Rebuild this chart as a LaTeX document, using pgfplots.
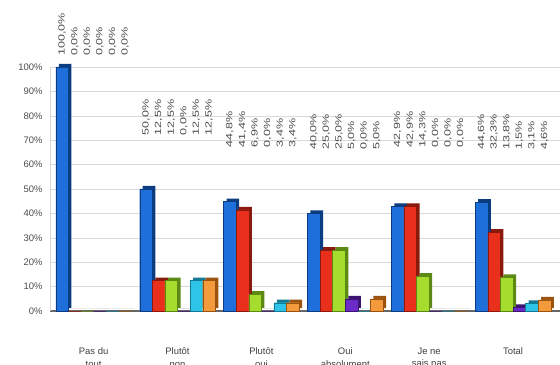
\documentclass[border=0pt]{standalone}
\usepackage{pgfplots}
\pgfplotsset{compat=1.18}
\usepackage{pgfplotstable}
\usepackage{fontspec}
\setmainfont{Liberation Sans}

\definecolor{sA}{HTML}{1E6FD9}\definecolor{sAdk}{HTML}{0B3C80}
\definecolor{sB}{HTML}{E8301C}\definecolor{sBdk}{HTML}{8A1A0E}
\definecolor{sC}{HTML}{A6DC2E}\definecolor{sCdk}{HTML}{5C8A14}
\definecolor{sD}{HTML}{6A2BC8}\definecolor{sDdk}{HTML}{3A1470}
\definecolor{sE}{HTML}{2EC4E8}\definecolor{sEdk}{HTML}{137A94}
\definecolor{sF}{HTML}{F39A3C}\definecolor{sFdk}{HTML}{9A5410}

% x = group, ly = height of the value labels, a..f = the six series (%)
\pgfplotstableread{
x ly a b c d e f
0 104.5 100.0 0.0 0.0 0.0 0.0 0.0
1 72 50.0 12.5 12.5 0.0 12.5 12.5
2 67 44.8 41.4 6.9 0.0 3.4 3.4
3 66 40.0 25.0 25.0 5.0 0.0 5.0
4 67 42.9 42.9 14.3 0.0 0.0 0.0
5 66 44.6 32.3 13.8 1.5 3.1 4.6
}\data

\newcommand\series[3]{%
  \addplot[ybar, bar width=12.6bp, bar shift=#3, fill=#2dk, draw=none, xshift=3bp, yshift=3bp]
    table[x=x,y=#1]{\data};
  \addplot[ybar, bar width=12.6bp, bar shift=#3, fill=#2, draw=#2dk, line width=0.4pt]
    table[x=x,y=#1]{\data};
}
\newcommand\labels[2]{%
  \addplot[ybar, bar width=1bp, bar shift=#2, draw=none, fill=none,
    point meta=\thisrow{#1},
    nodes near coords={\pgfmathprintnumber[fixed,fixed zerofill,precision=1,use comma]{\pgfplotspointmeta}\%},
    every node near coord/.append style={xshift=#2, rotate=90, xscale=1.4, anchor=west, inner sep=0pt,
      font=\fontsize{9}{9}\selectfont, text=black!70}]
    table[x=x,y=ly]{\data};
}

\begin{document}
\begin{tikzpicture}
\begin{axis}[
  scale only axis, width=510bp, height=244bp,
  xmin=-0.52, xmax=5.56, ymin=0, ymax=100,
  clip=false,
  axis lines=left,
  axis line style={-},
  x axis line style={draw=black!60, line width=1.6pt},
  y axis line style={draw=black!15},
  xtick={0,...,5},
  xticklabels={{Pas du\\tout},{Plutôt\\non},{Plutôt\\oui},{Oui\\absolument},{Je ne\\sais pas},{Total}},
  xticklabel style={align=center, font=\fontsize{9.5}{13}\selectfont, text=black!75, anchor=north, yshift=-33bp},
  ytick={0,10,...,100},
  yticklabel={\pgfmathprintnumber{\tick}\%},
  yticklabel style={font=\fontsize{9.5}{10}\selectfont, text=black!70, xshift=-4bp},
  /pgf/number format/assume math mode=true,
  major tick length=0pt,
  ymajorgrids, grid style={black!15},
]
\series{a}{sA}{-31.5bp}
\series{b}{sB}{-18.9bp}
\series{c}{sC}{-6.3bp}
\series{d}{sD}{6.3bp}
\series{e}{sE}{18.9bp}
\series{f}{sF}{31.5bp}
\labels{a}{-31.5bp}
\labels{b}{-18.9bp}
\labels{c}{-6.3bp}
\labels{d}{6.3bp}
\labels{e}{18.9bp}
\labels{f}{31.5bp}
\end{axis}
\pgfresetboundingbox
\useasboundingbox ([xshift=-50bp,yshift=-54bp]current axis.south west) rectangle ([yshift=67bp]current axis.north east);
\end{tikzpicture}
\end{document}
